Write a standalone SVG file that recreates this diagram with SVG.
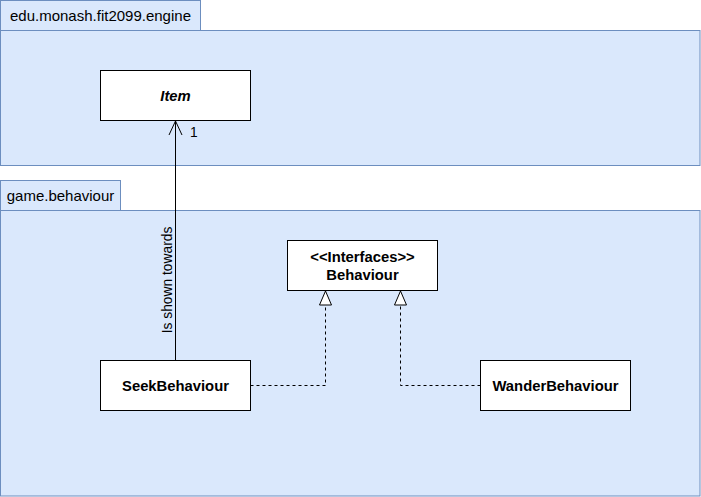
<svg xmlns="http://www.w3.org/2000/svg" width="701" height="497" viewBox="0 0 701 497">
<defs>
<style>
.pkg{fill:#dae8fc;stroke:#6c8ebf;stroke-width:1}
.box{fill:#ffffff;stroke:#000000;stroke-width:1}
.t{font-family:"Liberation Sans",Arial,sans-serif;fill:#000000}
.tab{font-size:15px}
.nb{font-size:14.8px;font-weight:bold;text-anchor:middle}
.ln{fill:none;stroke:#000000;stroke-width:1}
.dash{stroke-dasharray:3 3}
.lbl{font-size:13.8px}
</style>
<marker id="open" markerWidth="16" markerHeight="16" refX="15" refY="7.5" orient="auto" markerUnits="userSpaceOnUse" viewBox="0 0 16 15">
<path d="M1,1 L15,7.5 L1,14" fill="none" stroke="#000" stroke-width="1"/>
</marker>
<marker id="tri" markerWidth="16" markerHeight="18" refX="8" refY="1" orient="0" markerUnits="userSpaceOnUse" viewBox="0 0 16 18">
<path d="M2,15 L8,1 L14,15 Z" fill="#fff" stroke="#000" stroke-width="1"/>
</marker>
</defs>
<rect width="701" height="497" fill="#ffffff"/>
<g id="pkg-engine">
<rect class="pkg" x="0.5" y="0.5" width="200" height="30"/>
<rect class="pkg" x="0.5" y="30.5" width="699.5" height="135"/>
<text class="t tab" x="100.5" y="21" text-anchor="middle">edu.monash.fit2099.engine</text>
</g>
<g id="pkg-behaviour">
<rect class="pkg" x="0.5" y="180.5" width="120" height="30"/>
<rect class="pkg" x="0.5" y="210.5" width="699.5" height="285.5"/>
<text class="t tab" x="60.5" y="201" text-anchor="middle">game.behaviour</text>
</g>
<g id="connectors">
<path class="ln" d="M175.5,360.5 L175.5,121" marker-end="url(#open)"/>
<text class="t lbl" x="190" y="137">1</text>
<text class="t lbl" transform="translate(172,280) rotate(-90)" text-anchor="middle">Is shown towards</text>
<path class="ln dash" d="M250.5,385.5 L325.5,385.5 L325.5,291" marker-end="url(#tri)"/>
<path class="ln dash" d="M480.5,385.5 L400.5,385.5 L400.5,291" marker-end="url(#tri)"/>
</g>
<g id="node-item">
<rect class="box" x="100.5" y="70.5" width="150" height="50"/>
<text class="t nb" x="175.5" y="100.5" font-style="italic">Item</text>
</g>
<g id="node-behaviour">
<rect class="box" x="287.5" y="240.5" width="150" height="50"/>
<text class="t nb" x="362.5" y="262">&lt;&lt;Interfaces&gt;&gt;</text>
<text class="t nb" x="362.5" y="280">Behaviour</text>
</g>
<g id="node-seek">
<rect class="box" x="100.5" y="360.5" width="150" height="50"/>
<text class="t nb" x="175.5" y="390.5">SeekBehaviour</text>
</g>
<g id="node-wander">
<rect class="box" x="480.5" y="360.5" width="150" height="50"/>
<text class="t nb" x="555.5" y="390.5">WanderBehaviour</text>
</g>
</svg>
